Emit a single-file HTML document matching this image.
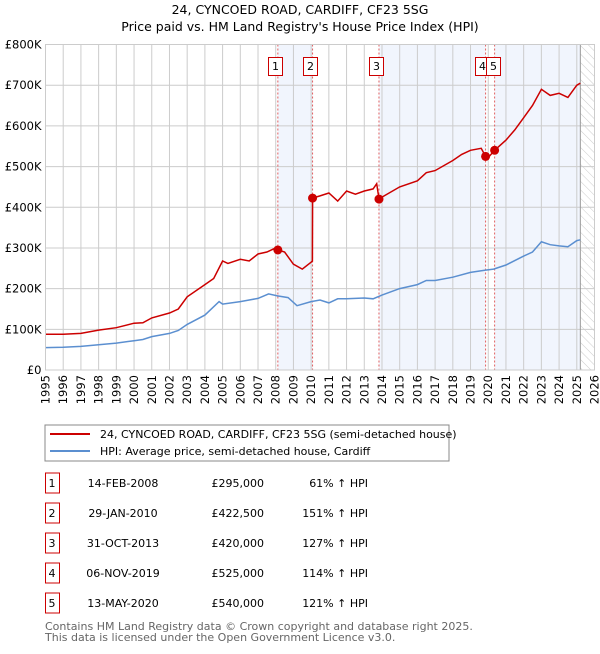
<!DOCTYPE html>
<html><head><meta charset="utf-8"><style>
body{margin:0;background:#fff;font-family:"DejaVu Sans","Liberation Sans",sans-serif;}
svg text{font-family:"DejaVu Sans","Liberation Sans",sans-serif;}
</style></head><body>
<svg id="c" width="600" height="650" xmlns="http://www.w3.org/2000/svg">
<defs><pattern id="hatch" width="6" height="6" patternUnits="userSpaceOnUse" patternTransform="rotate(-45)"><line x1="0" y1="0" x2="0" y2="6" stroke="#ccc" stroke-width="1"/></pattern></defs>
<text x="300" y="14" text-anchor="middle" font-size="12.5" fill="#000">24, CYNCOED ROAD, CARDIFF, CF23 5SG</text>
<text x="300" y="31" text-anchor="middle" font-size="12.5" fill="#000">Price paid vs. HM Land Registry's House Price Index (HPI)</text>
<g id="plot"></g>
<g>
<rect x="45" y="425" width="404" height="36" fill="#fff" stroke="#888"/>
<line x1="50" y1="434" x2="90" y2="434" stroke="#cc0000" stroke-width="2"/>
<text x="100" y="438" font-size="11">24, CYNCOED ROAD, CARDIFF, CF23 5SG (semi-detached house)</text>
<line x1="50" y1="451" x2="90" y2="451" stroke="#5b8fd0" stroke-width="2"/>
<text x="100" y="455" font-size="11">HPI: Average price, semi-detached house, Cardiff</text>
</g>
<g id="table"></g>
<text x="45" y="630" font-size="11" fill="#666">Contains HM Land Registry data © Crown copyright and database right 2025.</text>
<text x="45" y="641" font-size="11" fill="#666">This data is licensed under the Open Government Licence v3.0.</text>
</svg>
<script>
const hpiYears=[1995,1996,1997,1998,1999,2000,2000.5,2001,2002,2002.5,2003,2004,2004.8,2005,2006,2006.5,2007,2007.6,2008.1,2008.7,2009.2,2010,2010.5,2011,2011.5,2012,2013,2013.5,2014,2015,2016,2016.5,2017,2018,2019,2019.8,2020.3,2021,2022,2022.5,2023,2023.5,2024,2024.5,2025,2025.2];
const hpiValues=[55,56,58,62,66,72,75,82,90,97,112,135,168,162,168,172,176,187,182,178,158,168,172,165,175,175,177,175,184,200,210,220,220,228,240,245,248,258,280,290,315,308,305,303,318,320];
const propYears=[1995,1996,1997,1998,1999,2000,2000.5,2001,2002,2002.5,2003,2004,2004.5,2005,2005.3,2006,2006.5,2007,2007.5,2008,2008.12,2008.5,2009,2009.5,2010,2010.07,2010.08,2010.5,2011,2011.5,2012,2012.5,2013,2013.5,2013.7,2013.83,2014,2015,2016,2016.5,2017,2018,2018.5,2019,2019.6,2019.85,2020,2020.36,2021,2021.5,2022,2022.5,2023,2023.5,2024,2024.5,2025,2025.2];
const propValues=[88,88,90,98,104,115,116,128,140,150,180,210,225,268,262,272,268,285,290,300,295,290,260,248,265,268,422.5,428,435,415,440,432,440,445,458,420,425,450,465,485,490,515,530,540,545,525,522,540,565,590,620,650,690,675,680,670,700,705];
const saleYears=[2008.12,2010.08,2013.83,2019.85,2020.36];
const saleValues=[295,422.5,420,525,540];
const saleLabels=["1","2","3","4","5"];
const saleDates=["14-FEB-2008","29-JAN-2010","31-OCT-2013","06-NOV-2019","13-MAY-2020"];
const salePrices=["£295,000","£422,500","£420,000","£525,000","£540,000"];
const saleHpi=["61% ↑ HPI","151% ↑ HPI","127% ↑ HPI","114% ↑ HPI","121% ↑ HPI"];
const yTicks=[0,100,200,300,400,500,600,700,800];
const yTickLabels=["£0","£100K","£200K","£300K","£400K","£500K","£600K","£700K","£800K"];
const xTicks=[1995,1996,1997,1998,1999,2000,2001,2002,2003,2004,2005,2006,2007,2008,2009,2010,2011,2012,2013,2014,2015,2016,2017,2018,2019,2020,2021,2022,2023,2024,2025,2026];
const dataEnd=2025.2;

const X0=45.5,X1=594.5,Y0=370,Y1=44.5;
const x=v=>X0+(v-1995)/(2026-1995)*(X1-X0);
const y=v=>Y0-v/800*(Y0-Y1);
const NS="http://www.w3.org/2000/svg";
const g=document.getElementById('plot');
function mk(tag,at,parent){const e=document.createElementNS(NS,tag);for(const k in at)e.setAttribute(k,at[k]);(parent||g).appendChild(e);return e;}

const sh=[[0,1],[2,3],[4,-1]];
sh.forEach((p,i)=>{const a=saleYears[p[0]],b=p[1]<0?dataEnd:saleYears[p[1]];
const r=mk('rect',{x:x(a),y:Y1,width:x(b)-x(a),height:Y0-Y1,fill:'#eef3fc',opacity:0.8});

});
const hr=mk('rect',{x:x(dataEnd),y:Y1,width:X1-x(dataEnd),height:Y0-Y1,fill:'url(#hatch)'});



xTicks.forEach(t=>{const l=mk('line',{x1:x(t),x2:x(t),y1:Y1,y2:Y0,stroke:'#ccc','stroke-width':1});


const tx=mk('text',{x:0,y:0,'font-size':11.5,'text-anchor':'end',transform:`translate(${x(t)+4},${Y0+5}) rotate(-90)`});
tx.textContent=t;

});
yTicks.forEach((t,i)=>{const l=mk('line',{x1:X0,x2:X1,y1:y(t),y2:y(t),stroke:'#ccc','stroke-width':1});


const tx=mk('text',{x:X0-4,y:y(t)+4,'font-size':11.5,'text-anchor':'end'});
tx.textContent=yTickLabels[i];

});
const el=mk('line',{x1:x(dataEnd),x2:x(dataEnd),y1:Y1,y2:Y0,stroke:'#999','stroke-width':1});



const boxOff=[-10,-10,-10,-11,-9];
saleYears.forEach((s,i)=>{const l=mk('line',{x1:x(s),x2:x(s),y1:Y1,y2:Y0,stroke:'#e06060','stroke-width':1,'stroke-dasharray':'2,2'});


const bx=Math.round(x(s)+boxOff[i])+0.5;
const r=mk('rect',{x:bx,y:57.5,width:14,height:18,fill:'#fff',stroke:'#cc0000'});


const t=mk('text',{x:bx+7,y:70,'font-size':11,'text-anchor':'middle'});
t.textContent=saleLabels[i];

});

function path(xs,vs){return xs.map((v,i)=>(i?'L':'M')+x(v).toFixed(1)+','+y(vs[i]).toFixed(1)).join('');}
const hp=mk('path',{d:path(hpiYears,hpiValues),fill:'none',stroke:'#5b8fd0','stroke-width':1.5});


const pp=mk('path',{d:path(propYears,propValues),fill:'none',stroke:'#cc0000','stroke-width':1.5});


saleYears.forEach((s,i)=>{const c=mk('circle',{cx:x(s),cy:y(saleValues[i]),r:4.5,fill:'#cc0000'});

});
const ax=mk('rect',{x:X0,y:Y1,width:X1-X0,height:Y0-Y1,fill:'none',stroke:'#ccc'});



const tb=document.getElementById('table');
saleLabels.forEach((l,i)=>{const cy=483+i*30;
const r=mk('rect',{x:45.5,y:cy-10,width:14,height:20,fill:'#fff',stroke:'#cc0000'},tb);


const cols=[[52,l,'middle'],[123,saleDates[i],'middle'],[264,salePrices[i],'end'],[368,saleHpi[i],'end']];
cols.forEach(c=>{const t=mk('text',{x:c[0],y:cy+4,'font-size':11,'text-anchor':c[2]},tb);
t.textContent=c[1];

});});
</script>
</body></html>
